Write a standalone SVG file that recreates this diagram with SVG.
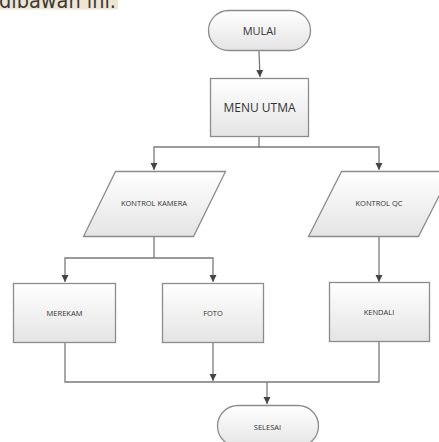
<svg xmlns="http://www.w3.org/2000/svg" width="439" height="442" viewBox="0 0 439 442">
<defs>
<linearGradient id="g" x1="0" y1="0" x2="0" y2="1">
<stop offset="0" stop-color="#ffffff"/>
<stop offset="1" stop-color="#e4e4e4"/>
</linearGradient>
<marker id="arr" markerWidth="8" markerHeight="8" refX="7" refY="4" orient="auto" markerUnits="userSpaceOnUse">
<path d="M0,0.5 L7,4 L0,7.5 Z" fill="#444"/>
</marker>
<style>
.shape{fill:url(#g);stroke:#8c8c8c;stroke-width:1.3}
.conn{fill:none;stroke:#7a7a7a;stroke-width:1.3}
.t{font-family:"Open Sans","Liberation Sans",sans-serif;fill:#333;text-anchor:middle}
.big{font-size:12px}
.sm{font-size:7.5px}
</style>
</defs>
<rect width="439" height="442" fill="#ffffff"/>
<g id="caption">
<rect x="0" y="0" width="118" height="9.5" fill="#efe5d3"/>
<text x="-1" y="7.5" font-family="'DejaVu Sans',sans-serif" font-size="21" fill="#3a3a3a" textLength="117" lengthAdjust="spacingAndGlyphs">dibawah ini.</text>
</g>
<g id="connectors">
<path class="conn" d="M259,51 L260,77" marker-end="url(#arr)"/>
<path class="conn" d="M259,137 V147 H154 V170" marker-end="url(#arr)"/>
<path class="conn" d="M259,147 H379 V170" marker-end="url(#arr)"/>
<path class="conn" d="M154,236 V258 H65 V282" marker-end="url(#arr)"/>
<path class="conn" d="M154,258 H213 V282" marker-end="url(#arr)"/>
<path class="conn" d="M379,236 V282" marker-end="url(#arr)"/>
<path class="conn" d="M65,343 V382 H379 V342"/>
<path class="conn" d="M213,343 V381" marker-end="url(#arr)"/>
<path class="conn" d="M267,382 V404" marker-end="url(#arr)"/>
</g>
<g id="mulai">
<rect class="shape" x="208.5" y="10.5" width="102" height="40" rx="20" ry="20"/>
<text class="t" x="259.5" y="34.5" font-size="11">MULAI</text>
</g>
<g id="menu-utma">
<rect class="shape" x="210.5" y="78.5" width="98" height="58"/>
<text class="t big" x="259.5" y="112">MENU UTMA</text>
</g>
<g id="kontrol-kamera">
<polygon class="shape" points="115.5,171.5 225.5,171.5 193.5,236.5 83.5,236.5"/>
<text class="t sm" x="154" y="205.5">KONTROL KAMERA</text>
</g>
<g id="kontrol-qc">
<polygon class="shape" points="341.5,171.5 451.5,171.5 418.5,236.5 308.5,236.5"/>
<text class="t sm" x="379" y="205.5">KONTROL QC</text>
</g>
<g id="merekam">
<rect class="shape" x="13.5" y="283.5" width="102" height="59"/>
<text class="t sm" x="64.5" y="315.5">MEREKAM</text>
</g>
<g id="foto">
<rect class="shape" x="162.5" y="283.5" width="101" height="59"/>
<text class="t sm" x="213" y="315.5">FOTO</text>
</g>
<g id="kendali">
<rect class="shape" x="329.5" y="282.5" width="100" height="59"/>
<text class="t sm" x="379" y="314.5">KENDALI</text>
</g>
<g id="selesai">
<rect class="shape" x="217.5" y="405.5" width="101" height="41" rx="20.5" ry="20.5"/>
<text class="t sm" x="267.5" y="429.5">SELESAI</text>
</g>
</svg>
